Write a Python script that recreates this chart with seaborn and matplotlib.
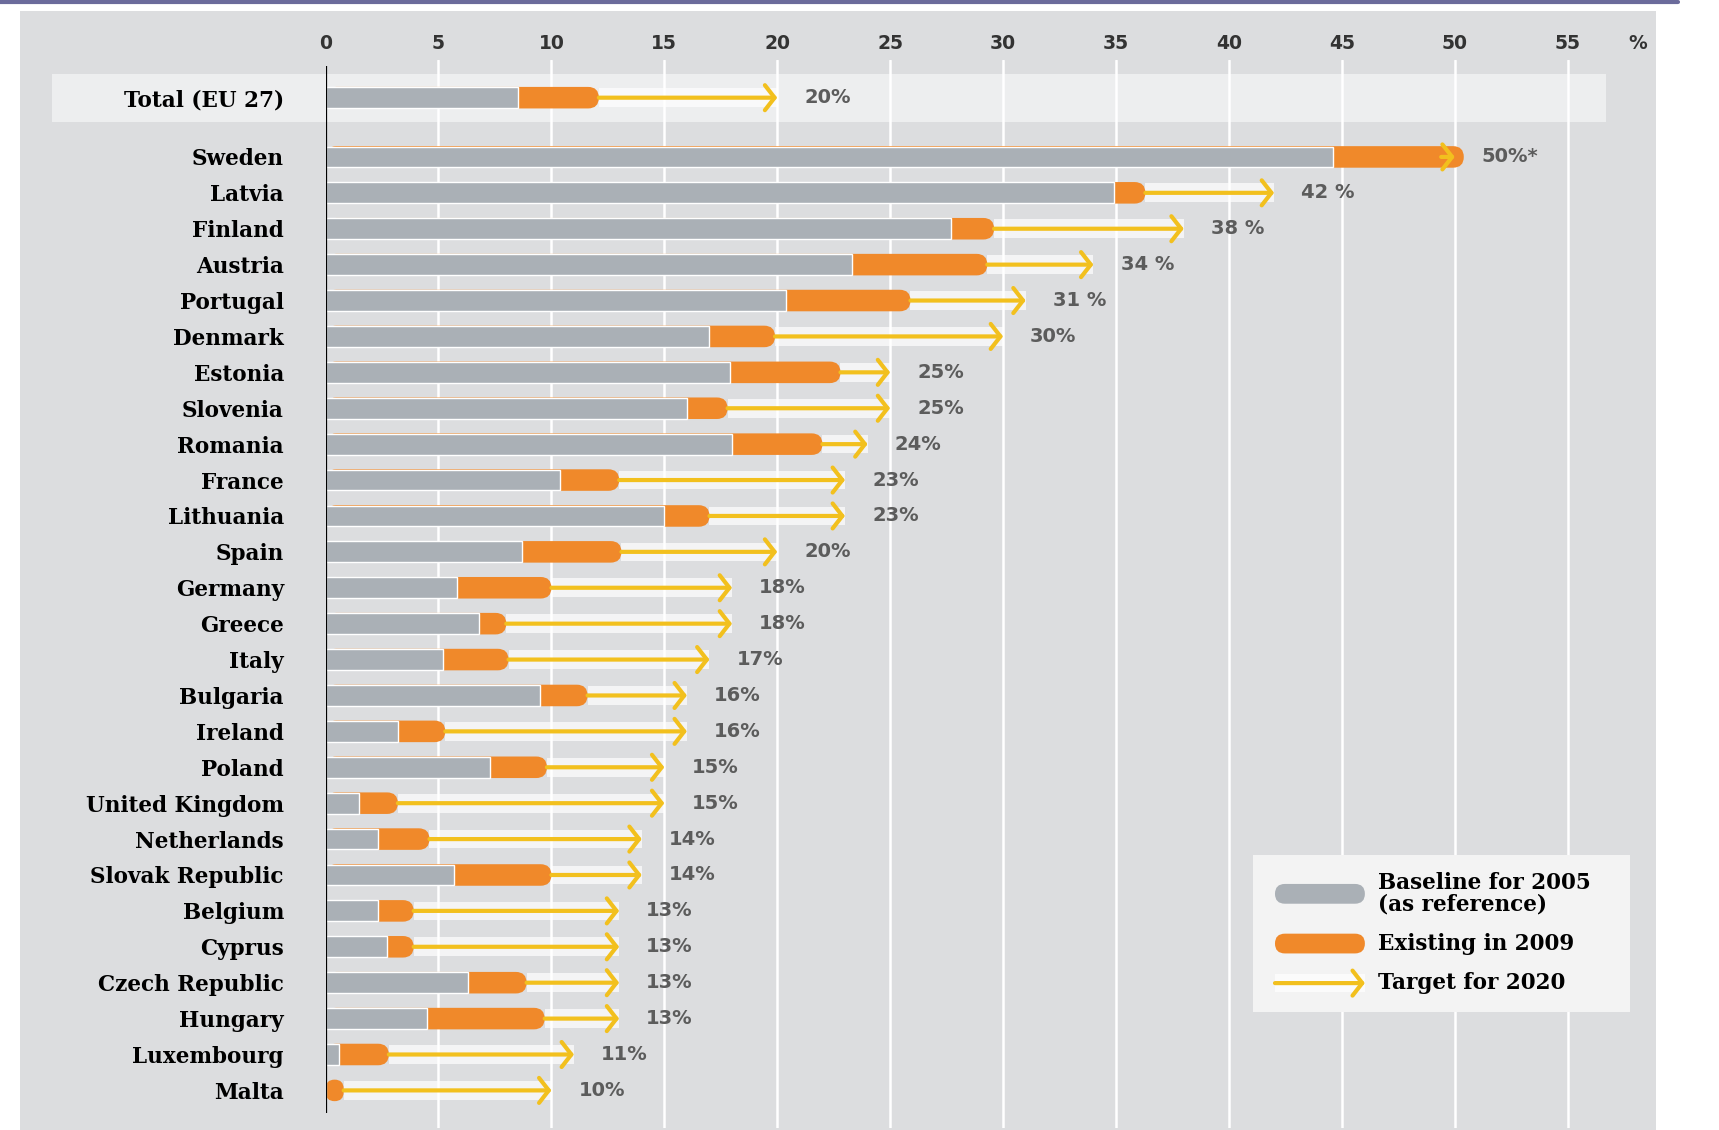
import numpy as np
import pandas as pd
import matplotlib
matplotlib.use("Agg")
import matplotlib.pyplot as plt
import seaborn as sns
from matplotlib.patches import FancyBboxPatch, Rectangle, FancyArrowPatch
from matplotlib.lines import Line2D

# ---------------- data ----------------
countries = ["Total (EU 27)", "Sweden", "Latvia", "Finland", "Austria", "Portugal",
             "Denmark", "Estonia", "Slovenia", "Romania", "France", "Lithuania",
             "Spain", "Germany", "Greece", "Italy", "Bulgaria", "Ireland", "Poland",
             "United Kingdom", "Netherlands", "Slovak Republic", "Belgium", "Cyprus",
             "Czech Republic", "Hungary", "Luxembourg", "Malta"]
baseline_2005 = [8.5, 44.6, 34.9, 27.7, 23.3, 20.4, 17.0, 17.9, 16.0, 18.0, 10.4, 15.0,
                 8.7, 5.8, 6.8, 5.2, 9.5, 3.2, 7.3, 1.5, 2.3, 5.7, 2.3, 2.7, 6.3, 4.5, 0.6, 0.0]
existing_2009 = [12.1, 50.4, 36.3, 29.6, 29.3, 25.9, 19.9, 22.8, 17.8, 22.0, 13.0, 17.0,
                 13.1, 10.0, 8.0, 8.1, 11.6, 5.3, 9.8, 3.2, 4.6, 10.0, 3.9, 3.9, 8.9, 9.7, 2.8, 0.8]
target_2020 = [20, 50, 42, 38, 34, 31, 30, 25, 25, 24, 23, 23, 20, 18, 18, 17, 16, 16, 15,
               15, 14, 14, 13, 13, 13, 13, 11, 10]
target_labels = ["20%", "50%*", "42 %", "38 %", "34 %", "31 %", "30%", "25%", "25%", "24%",
                 "23%", "23%", "20%", "18%", "18%", "17%", "16%", "16%", "15%", "15%", "14%",
                 "14%", "13%", "13%", "13%", "13%", "11%", "10%"]
x_ticks = [0, 5, 10, 15, 20, 25, 30, 35, 40, 45, 50, 55]
legend_labels = ["Baseline for 2005\n(as reference)", "Existing in 2009", "Target for 2020"]

# ---------------- layout ----------------
row_pos = [-1.65] + list(range(len(countries) - 1))
df = pd.DataFrame({"country": countries, "pos": row_pos, "baseline": baseline_2005,
                   "existing": existing_2009, "target": target_2020})

GRAY = "#aab0b6"
ORANGE = "#f0892a"
YELLOW = "#f2c01e"
PANEL = "#dcdddf"

sns.set_theme(style="white")
plt.rcParams["font.family"] = ["DejaVu Sans"]

W, H = 17.19, 11.30
fig = plt.figure(figsize=(W, H), dpi=100)
fig.patch.set_facecolor("white")
fig.patches.append(Rectangle((0.0115, 0.0), 0.952, 0.990, transform=fig.transFigure,
                             facecolor=PANEL, edgecolor="none", zorder=-10))
fig.add_artist(Line2D([0, 0.976], [0.998, 0.998], transform=fig.transFigure,
                      color="#6b6b9b", lw=3, zorder=-5))

ax_rect = [0.1894, 0.002, 0.7449, 0.9446]
ax = fig.add_axes(ax_rect)
ax.set_zorder(0)
ax.set_facecolor("none")
XMAX = 56.7
YTOP, YBOT = -2.69, 27.04

# grid
for t in x_ticks[1:]:
    ax.axvline(t, color="white", lw=1.8, zorder=1)

# total band
ax.add_patch(Rectangle((-12.1, -2.32), 12.1 + XMAX, 1.34, facecolor="white", alpha=0.5,
                       lw=0, zorder=1.1, clip_on=False))

# pixel scales
ppu_x = ax_rect[2] * W * 100 / XMAX
ppu_y = ax_rect[3] * H * 100 / (YBOT - YTOP)

# white bands + arrows
for _, r in df.iterrows():
    start = min(r["existing"], r["target"] - 0.6)
    if r["target"] > r["existing"]:
        ax.barh(r["pos"], r["target"] - r["existing"], left=r["existing"], height=0.52,
                color="white", alpha=0.7, lw=0, zorder=1.8)
    ax.annotate("", xy=(r["target"], r["pos"]), xytext=(start, r["pos"]),
                arrowprops=dict(arrowstyle="->,head_length=0.35,head_width=0.45",
                                color=YELLOW, lw=3.0, shrinkA=0, shrinkB=0,
                                mutation_scale=20), zorder=6)

# orange bars (existing 2009), with rounded end
n0 = len(ax.patches)
sns.barplot(data=df, x="existing", y="pos", orient="h", native_scale=True, color=ORANGE,
            saturation=1, width=0.6, ax=ax, zorder=3)
new = ax.patches[n0:]
for p in list(new):
    x0, y0, w, h = p.get_x(), p.get_y(), p.get_width(), p.get_height()
    p.remove()
    ry = abs(h) / 2
    rx = ry * ppu_y / ppu_x
    m = ppu_x / ppu_y
    rs = min(rx, w / 2)
    ax.add_patch(FancyBboxPatch((x0, y0), w, h, boxstyle=f"round,pad=0,rounding_size={rs}",
                                mutation_aspect=m, facecolor=ORANGE, edgecolor="none",
                                zorder=3))

# gray bars (baseline 2005)
sns.barplot(data=df, x="baseline", y="pos", orient="h", native_scale=True, color=GRAY,
            saturation=1, width=0.58, ax=ax, zorder=4)

# labels
for i, r in df.iterrows():
    ax.text(r["target"] + 1.2, r["pos"], target_labels[i], va="center", ha="left",
            fontsize=14, fontweight="bold", color="#5c5c5c", zorder=7)

# axis line
ax.vlines(0, -2.54, 26.64, color="black", lw=1.6, zorder=8)

ax.set_xlim(0, XMAX)
ax.set_ylim(YBOT, YTOP)
ax.set_xlabel("")
ax.set_ylabel("")
for s in ax.spines.values():
    s.set_visible(False)
ax.xaxis.tick_top()
ax.set_xticks(x_ticks)
ax.set_xticklabels([str(t) for t in x_ticks], fontweight="bold", fontsize=13.5, color="#333333")
ax.tick_params(axis="x", length=0, pad=5)
ax.set_yticks(row_pos)
ax.set_yticklabels(countries, fontfamily="DejaVu Serif", fontweight="bold", fontsize=15.5,
                   color="black")
ax.tick_params(axis="y", length=0, pad=30)
ax.yaxis.set_zorder(10)
ax.xaxis.set_zorder(10)
ax.annotate("%", xy=(58.1, 1), xycoords=("data", "axes fraction"), xytext=(0, 5),
            textcoords="offset points", ha="center", va="bottom", fontsize=13.5,
            fontweight="bold", color="#333333", annotation_clip=False)
if ax.get_legend() is not None:
    ax.get_legend().remove()

# ---------------- legend ----------------
fig.patches.append(Rectangle((0.729, 0.104), 0.219, 0.139, transform=fig.transFigure,
                             facecolor="#f3f3f3", edgecolor="none", zorder=1))
sw_x0, sw_x1 = 0.7417, 0.794
sw_h = 0.0175
fx, fy = W * 100, H * 100
for yc, col in [(0.209, GRAY), (0.165, ORANGE)]:
    ry = sw_h / 2
    rx = ry * fy / fx
    fig.patches.append(FancyBboxPatch((sw_x0, yc - sw_h / 2), sw_x1 - sw_x0, sw_h,
                                      boxstyle=f"round,pad=0,rounding_size={rx}",
                                      mutation_aspect=ry / rx, transform=fig.transFigure,
                                      facecolor=col, edgecolor="none", zorder=2))
fig.patches.append(Rectangle((sw_x0, 0.130 - 0.008), sw_x1 - sw_x0, 0.016,
                             transform=fig.transFigure, facecolor="white", alpha=0.7,
                             edgecolor="none", zorder=2))
fig.add_artist(FancyArrowPatch(
    (sw_x0, 0.130), (sw_x1, 0.130), transform=fig.transFigure,
    arrowstyle="->,head_length=0.35,head_width=0.45", mutation_scale=20,
    color=YELLOW, lw=3.0, shrinkA=0, shrinkB=0, zorder=3))
for yc, lab in zip([0.209, 0.165, 0.130], legend_labels):
    fig.text(0.8017, yc, lab, ha="left", va="center", fontsize=15.5, fontweight="bold",
             fontfamily="DejaVu Serif", color="black", linespacing=0.95, zorder=4)

fig.savefig("out.png", dpi=100, facecolor=fig.get_facecolor())
